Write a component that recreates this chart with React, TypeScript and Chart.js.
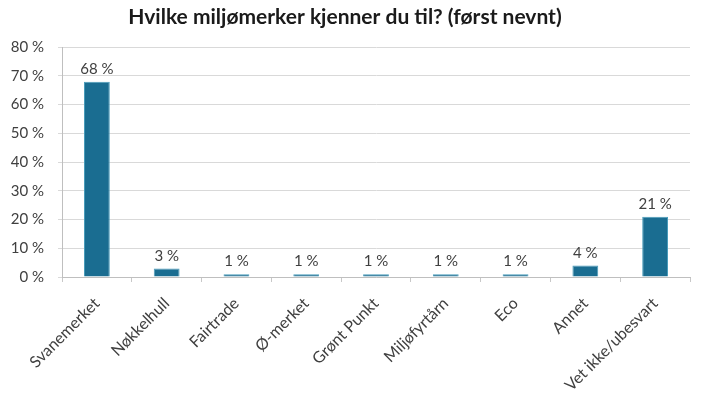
import React, { useEffect, useRef } from "react";
import { Chart, registerables } from "chart.js";

Chart.register(...registerables);

const TITLE = "Hvilke miljømerker kjenner du til? (først nevnt)";
const categories = [
  "Svanemerket",
  "Nøkkelhull",
  "Fairtrade",
  "Ø-merket",
  "Grønt Punkt",
  "Miljøfyrtårn",
  "Eco",
  "Annet",
  "Vet ikke/ubesvart",
];
const values = [68, 3, 1, 1, 1, 1, 1, 4, 21];
const yTickMax = 80;
const yTickStep = 10;

const FONT = "Lato, 'Open Sans', sans-serif";
const TEXT = "#404040";

const dataLabels = {
  id: "dataLabels",
  afterDatasetsDraw(chart: any) {
    const ctx = chart.ctx;
    const meta = chart.getDatasetMeta(0);
    ctx.save();
    ctx.font = `15px ${FONT}`;
    ctx.fillStyle = TEXT;
    ctx.textAlign = "center";
    ctx.textBaseline = "bottom";
    meta.data.forEach((bar: any, i: number) => {
      ctx.fillText(`${values[i]} %`, bar.x, bar.y - 5);
    });
    ctx.restore();
  },
};

export default function App() {
  const ref = useRef<HTMLCanvasElement | null>(null);
  useEffect(() => {
    document.body.style.margin = "0";
    const chart = new Chart(ref.current as HTMLCanvasElement, {
      type: "bar",
      data: {
        labels: categories,
        datasets: [
          {
            data: values,
            backgroundColor: "#1a6d91",
            borderColor: "#4a9dbb",
            borderWidth: 1,
            barPercentage: 0.37,
            categoryPercentage: 1,
          },
        ],
      },
      options: {
        animation: false,
        responsive: false,
        maintainAspectRatio: false,
        layout: { padding: { left: 0, right: 16, top: 0, bottom: 0 } },
        plugins: {
          legend: { display: false },
          tooltip: { enabled: false },
          title: {
            display: true,
            text: TITLE,
            color: "#1a1a1a",
            font: { family: FONT, size: 21, weight: "bold" },
            padding: { top: 5, bottom: 17 },
          },
        },
        scales: {
          x: {
            grid: {
              display: true,
              drawOnChartArea: false,
              drawTicks: true,
              tickLength: 5,
              color: "#c8c8c8",
              offset: true,
            },
            border: { display: true, color: "#bfbfbf" },
            ticks: {
              color: TEXT,
              font: { family: FONT, size: 16 },
              maxRotation: 45,
              minRotation: 45,
              padding: 12,
              autoSkip: false,
            },
            afterFit(scale: any) {
              scale.height = 120;
            },
          },
          y: {
            min: 0,
            max: yTickMax,
            grid: { color: "#d9d9d9", tickLength: 4 },
            border: { display: true, color: "#bfbfbf" },
            ticks: {
              stepSize: yTickStep,
              color: TEXT,
              font: { family: FONT, size: 15 },
              padding: 14,
              callback: (v: any) => `${v} %`,
            },
            afterFit(scale: any) {
              scale.width = 62;
            },
          },
        },
      },
      plugins: [dataLabels],
    } as any);
    return () => chart.destroy();
  }, []);
  return (
    <div style={{ position: "absolute", left: 0, top: 0, width: 706, height: 397, background: "#fff" }}>
      <canvas ref={ref} width={706} height={397} />
    </div>
  );
}
